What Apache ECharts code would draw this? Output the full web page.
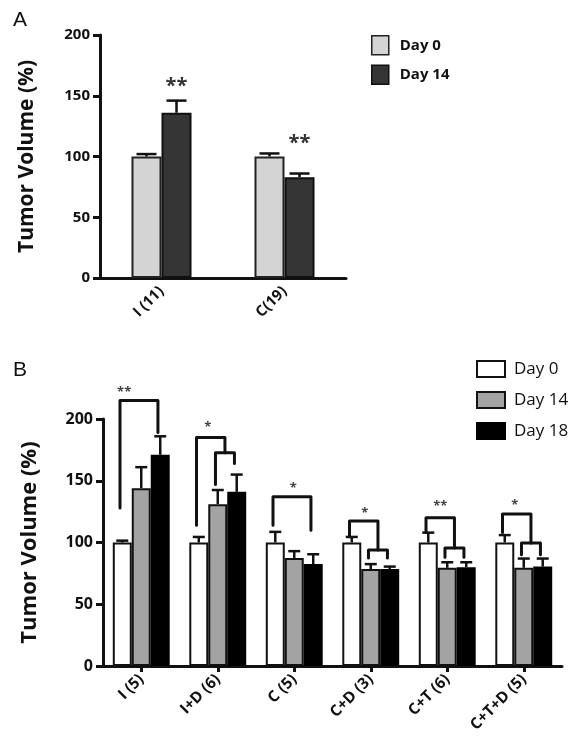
<!DOCTYPE html>
<html>
<head>
<meta charset="utf-8">
<script src="https://cdn.jsdelivr.net/npm/echarts@6/dist/echarts.min.js"></script>
<style>
html,body{margin:0;padding:0;background:#fff;}
#chart{width:587px;height:753px;}
</style>
</head>
<body>
<div id="chart"></div>
<script>
// ---------- Panel A data ----------
const catsA = ['I (11)', 'C(19)'];
const day0A = [100, 100];
const day0AErr = [102, 102.5];
const day14A = [136, 83];
const day14AErr = [146, 86];
// stars: [category, bar slot, value, text]
const starsA = [[0, 1, 158, '**'], [1, 1, 110.5, '**']];

// ---------- Panel B data ----------
const catsB = ['I (5)', 'I+D (6)', 'C (5)', 'C+D (3)', 'C+T (6)', 'C+T+D (5)'];
const day0B = [100, 100, 100, 100, 100, 100];
const day0BErr = [101.5, 104.5, 108.6, 104.5, 108, 106];
const day14B = [144, 131, 87.5, 78.5, 79.5, 79.5];
const day14BErr = [161, 142.5, 93, 82.5, 84, 87];
const day18B = [171, 141, 82.5, 78.5, 80, 80.5];
const day18BErr = [186, 155, 90.5, 80.5, 84, 87];
// brackets: [category, from slot, to slot, top value, left end value, right end value]
const bracketsB = [
  [0, 0, 2, 215, 128, 189],
  [1, 0, 1.5, 185, 114, 172.7],
  [1, 1, 2, 172.7, 147, 164],
  [2, 0, 2, 137, 114, 110],
  [3, 0, 1.5, 117.5, 104.6, 94],
  [3, 1, 2, 94, 87.5, 87.5],
  [4, 0, 1.5, 120, 108, 95.6],
  [4, 1, 2, 95.6, 88, 88],
  [5, 0, 1.5, 123, 108, 99.6],
  [5, 1, 2, 99.6, 90, 90]
];
const starsB = [
  [0, 0.1, 222, '**'],
  [1, 0.47, 193, '*'],
  [2, 0.95, 144, '*'],
  [3, 0.68, 124, '*'],
  [4, 0.63, 129.5, '**'],
  [5, 0.53, 130, '*']
];
const yTicks = [0, 50, 100, 150, 200];

// ---------- styling constants ----------
const FONT = 'Open Sans';
const barFracA = 0.244;
const barFracB = 0.248;

function slotX(api, cat, slot, nBars, frac, shift) {
  const band = api.size([1, 0])[0];
  const cx = api.coord([cat, 0])[0];
  return cx + (slot - (nBars - 1) / 2 + (shift || 0)) * frac * band;
}

function errRender(nBars, frac, capW, lw) {
  return function (params, api) {
    const cat = api.value(0), slot = api.value(1), v = api.value(2), e = api.value(3);
    const x = slotX(api, cat, slot, nBars, frac, 0);
    const y1 = api.coord([cat, v])[1];
    const y2 = api.coord([cat, e])[1];
    return {
      type: 'group',
      children: [
        { type: 'line', shape: { x1: x, y1: y1, x2: x, y2: y2 }, style: { stroke: '#111', lineWidth: lw } },
        { type: 'line', shape: { x1: x - capW / 2, y1: y2, x2: x + capW / 2, y2: y2 }, style: { stroke: '#111', lineWidth: lw } }
      ]
    };
  };
}

function starRender(rows, nBars, frac, size, color) {
  return function (params, api) {
    const cat = api.value(0), slot = api.value(1), v = api.value(2);
    const x = slotX(api, cat, slot, nBars, frac, 0);
    const y = api.coord([cat, v])[1];
    return {
      type: 'text',
      style: { text: rows[params.dataIndex][3], x: x, y: y, align: 'center', verticalAlign: 'middle',
        fontSize: size, fontWeight: 'bold', fontFamily: FONT, fill: color }
    };
  };
}

function bracketRender(params, api) {
  const cat = api.value(0), f = api.value(1), t = api.value(2);
  const top = api.coord([cat, api.value(3)])[1];
  const le = api.coord([cat, api.value(4)])[1];
  const re = api.coord([cat, api.value(5)])[1];
  const xl = slotX(api, cat, f, 3, barFracB, -0.12);
  const xr = slotX(api, cat, t, 3, barFracB, -0.12);
  return {
    type: 'polyline',
    shape: { points: [[xl, le], [xl, top], [xr, top], [xr, re]], smooth: 0 },
    style: { stroke: '#111', lineWidth: 3, fill: null, lineJoin: 'round', lineCap: 'round' }
  };
}

function errData(vals, errs, slot) {
  return vals.map((v, i) => [i, slot, v, errs[i]]);
}

const axisLine = { show: true, lineStyle: { color: '#111', width: 3 } };
const yAxisCommon = {
  type: 'value', min: 0, max: 200, interval: 50,
  axisLine: axisLine,
  axisTick: { show: true, length: 7, lineStyle: { color: '#111', width: 3 } },
  splitLine: { show: false },
  name: 'Tumor Volume (%)', nameLocation: 'middle'
};

const option = {
  animation: false,
  backgroundColor: '#fff',
  title: [
    { text: 'A', left: 8, top: 5, textStyle: { fontFamily: 'Liberation Sans', fontWeight: 'normal', fontSize: 21, color: '#111' } },
    { text: 'B', left: 8, top: 355, textStyle: { fontFamily: 'Liberation Sans', fontWeight: 'normal', fontSize: 21, color: '#111' } }
  ],
  legend: [
    {
      orient: 'vertical', left: 366, top: 30, itemWidth: 17, itemHeight: 19, itemGap: 9,
      textStyle: { fontFamily: FONT, fontWeight: 'bold', fontSize: 15, color: '#111', padding: [0, 0, 0, 6] },
      selectedMode: false,
      data: [
        { name: 'Day 0', icon: 'rect', itemStyle: { color: '#d4d4d4', borderColor: '#222', borderWidth: 1.5 } },
        { name: 'Day 14', icon: 'rect', itemStyle: { color: '#353535', borderColor: '#111', borderWidth: 1.5 } }
      ]
    },
    {
      orient: 'vertical', left: 471, top: 355, itemWidth: 28, itemHeight: 16, itemGap: 13,
      textStyle: { fontFamily: FONT, fontWeight: 'normal', fontSize: 17, color: '#111', padding: [0, 0, 0, 4] },
      selectedMode: false,
      data: [
        { name: 'Day 0', icon: 'rect', itemStyle: { color: '#ffffff', borderColor: '#111', borderWidth: 2 } },
        { name: 'Day 14', icon: 'rect', itemStyle: { color: '#a3a3a3', borderColor: '#111', borderWidth: 2 } },
        { name: 'Day 18', icon: 'rect', itemStyle: { color: '#000000', borderColor: '#000', borderWidth: 2 } }
      ]
    }
  ],
  grid: [
    { left: 100, width: 246, top: 35, height: 243 },
    { left: 103, width: 459, top: 419, height: 247 }
  ],
  xAxis: [
    {
      type: 'category', gridIndex: 0, data: catsA,
      axisLine: axisLine, axisTick: { show: false },
      axisLabel: { rotate: 45, margin: 11, fontFamily: FONT, fontWeight: 'bold', fontSize: 15, color: '#111' }
    },
    {
      type: 'category', gridIndex: 1, data: catsB,
      axisLine: axisLine,
      axisTick: { show: true, alignWithLabel: true, length: 6, lineStyle: { color: '#111', width: 3 } },
      axisLabel: { rotate: 45, margin: 11, fontFamily: FONT, fontWeight: 'bold', fontSize: 15.5, color: '#111' }
    }
  ],
  yAxis: [
    Object.assign({}, yAxisCommon, {
      gridIndex: 0, nameGap: 62,
      nameTextStyle: { fontFamily: FONT, fontWeight: 'bold', fontSize: 21, color: '#111' },
      axisLabel: { margin: 10, fontFamily: FONT, fontWeight: 'bold', fontSize: 15, color: '#111',
        formatter: v => yTicks.includes(v) ? String(v) : '' }
    }),
    Object.assign({}, yAxisCommon, {
      gridIndex: 1, nameGap: 62,
      nameTextStyle: { fontFamily: FONT, fontWeight: 'bold', fontSize: 22, color: '#111' },
      axisLabel: { margin: 10, fontFamily: FONT, fontWeight: 'bold', fontSize: 16, color: '#111',
        formatter: v => yTicks.includes(v) ? String(v) : '' }
    })
  ],
  series: [
    { name: 'Day 0', type: 'bar', xAxisIndex: 0, yAxisIndex: 0, data: day0A, barWidth: (barFracA * 100) + '%', barGap: '0%',
      itemStyle: { color: '#d4d4d4', borderColor: '#222', borderWidth: 2 } },
    { name: 'Day 14', type: 'bar', xAxisIndex: 0, yAxisIndex: 0, data: day14A, barWidth: (barFracA * 100) + '%', barGap: '0%',
      itemStyle: { color: '#353535', borderColor: '#111', borderWidth: 2 } },
    { type: 'custom', xAxisIndex: 0, yAxisIndex: 0, renderItem: errRender(2, barFracA, 20, 2.5),
      data: errData(day0A, day0AErr, 0).concat(errData(day14A, day14AErr, 1)), encode: { x: 0, y: 3 }, z: 3 },
    { type: 'custom', xAxisIndex: 0, yAxisIndex: 0, renderItem: starRender(starsA, 2, barFracA, 20, '#333'),
      data: starsA.map(r => [r[0], r[1], r[2]]), encode: { x: 0, y: 2 }, z: 3 },

    { name: 'Day 0', type: 'bar', xAxisIndex: 1, yAxisIndex: 1, data: day0B, barWidth: (barFracB * 100) + '%', barGap: '0%',
      itemStyle: { color: '#ffffff', borderColor: '#111', borderWidth: 2 } },
    { name: 'Day 14', type: 'bar', xAxisIndex: 1, yAxisIndex: 1, data: day14B, barWidth: (barFracB * 100) + '%', barGap: '0%',
      itemStyle: { color: '#a3a3a3', borderColor: '#111', borderWidth: 2 } },
    { name: 'Day 18', type: 'bar', xAxisIndex: 1, yAxisIndex: 1, data: day18B, barWidth: (barFracB * 100) + '%', barGap: '0%',
      itemStyle: { color: '#000000', borderColor: '#000', borderWidth: 2 } },
    { type: 'custom', xAxisIndex: 1, yAxisIndex: 1, renderItem: errRender(3, barFracB, 12, 2.5),
      data: errData(day0B, day0BErr, 0).concat(errData(day14B, day14BErr, 1), errData(day18B, day18BErr, 2)),
      encode: { x: 0, y: 3 }, z: 3 },
    { type: 'custom', xAxisIndex: 1, yAxisIndex: 1, renderItem: bracketRender,
      data: bracketsB, encode: { x: 0, y: 3 }, z: 4 },
    { type: 'custom', xAxisIndex: 1, yAxisIndex: 1, renderItem: starRender(starsB, 3, barFracB, 13, '#444'),
      data: starsB.map(r => [r[0], r[1], r[2]]), encode: { x: 0, y: 2 }, z: 4 }
  ]
};

const chart = echarts.init(document.getElementById('chart'), null, { renderer: 'canvas' });
chart.setOption(option);
</script>
</body>
</html>
